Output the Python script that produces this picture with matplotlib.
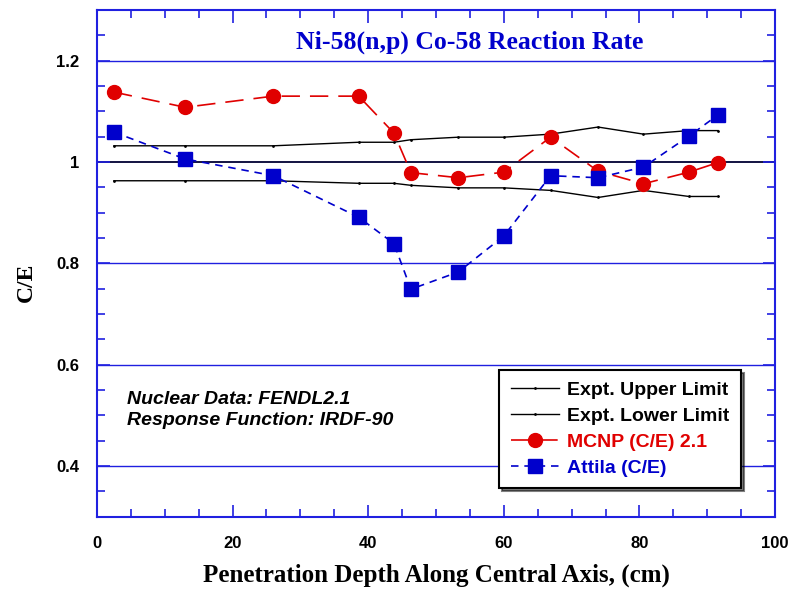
import matplotlib.pyplot as plt
import numpy as np

# depth positions (cm) along central axis
depth = [2.5, 13.0, 26.0, 38.6, 43.8, 46.3, 53.3, 60.0, 66.9, 73.9, 80.6, 87.3, 91.6]
upper_limit = [1.032, 1.032, 1.032, 1.039, 1.039, 1.044, 1.049, 1.049, 1.055, 1.069, 1.055, 1.062, 1.062]
lower_limit = [0.963, 0.963, 0.963, 0.958, 0.958, 0.954, 0.949, 0.949, 0.944, 0.930, 0.944, 0.932, 0.932]
mcnp_ce = [1.138, 1.108, 1.130, 1.130, 1.057, 0.979, 0.969, 0.980, 1.049, 0.982, 0.957, 0.980, 0.999]
attila_ce = [1.059, 1.006, 0.973, 0.891, 0.839, 0.749, 0.783, 0.854, 0.973, 0.969, 0.990, 1.051, 1.093]

blue = "#0000cc"
red = "#e00000"
axis_blue = "#2020e0"

fig = plt.figure(figsize=(7.91, 5.92), dpi=100)
ax = fig.add_axes([0.1226, 0.1272, 0.8572, 0.8559])

# grid lines
for yv in [0.4, 0.6, 0.8, 1.2]:
    ax.axhline(yv, color=axis_blue, lw=1.0, zorder=1)
ax.axhline(1.0, color="#000033", lw=1.3, zorder=1)

ax.plot(depth, upper_limit, color="black", lw=1.0, marker=".", ms=2, label="Expt. Upper Limit", zorder=2)
ax.plot(depth, lower_limit, color="black", lw=1.0, marker=".", ms=2, label="Expt. Lower Limit", zorder=2)
ax.plot(depth, mcnp_ce, color=red, lw=1.2, ls=(0, (11, 6)), marker="o", ms=10,
        mec=red, mfc=red, label="MCNP (C/E) 2.1", zorder=3)
ax.plot(depth, attila_ce, color=blue, lw=1.2, ls=(0, (4.5, 3.5)), marker="s", ms=10,
        mec=blue, mfc=blue, label="Attila (C/E)", zorder=4)

ax.set_xlim(0, 100)
ax.set_ylim(0.3, 1.3)
ax.set_xticks(np.arange(0, 101, 20))
ax.set_xticks(np.arange(0, 101, 5), minor=True)
ax.set_yticks([0.4, 0.6, 0.8, 1.0, 1.2])
ax.set_yticklabels(["0.4", "0.6", "0.8", "1", "1.2"])
ax.set_yticks(np.arange(0.3, 1.301, 0.05), minor=True)
ax.tick_params(which="both", direction="in", top=True, right=True, color=axis_blue, width=1.2)
ax.tick_params(which="major", length=9)
ax.tick_params(which="minor", length=6)
ax.tick_params(axis="x", pad=14)
ax.tick_params(axis="y", pad=13)
for lab in ax.get_xticklabels() + ax.get_yticklabels():
    lab.set_fontfamily("Liberation Sans")
    lab.set_fontweight("bold")
    lab.set_fontsize(12)
for sp in ax.spines.values():
    sp.set_color(axis_blue)
    sp.set_linewidth(1.5)

ax.set_xlabel("Penetration Depth Along Central Axis, (cm)", family="Liberation Serif",
              fontweight="bold", fontsize=18, labelpad=9)
ax.set_ylabel("C/E", family="Liberation Serif", fontweight="bold", fontsize=17)
ax.yaxis.set_label_coords(-0.088, 0.463)

ax.text(0.55, 0.936, "Ni-58(n,p) Co-58 Reaction Rate", transform=ax.transAxes,
        ha="center", va="center", color=blue, family="Liberation Serif",
        fontweight="bold", fontsize=18.5)
ax.text(0.045, 0.21, "Nuclear Data: FENDL2.1\nResponse Function: IRDF-90", transform=ax.transAxes,
        ha="left", va="center", family="Liberation Sans", fontweight="bold",
        fontstyle="italic", fontsize=14, linespacing=1.3)

leg = ax.legend(loc="upper left", bbox_to_anchor=(0.593, 0.2895), fancybox=False,
                shadow={"color": "black"}, framealpha=1, edgecolor="black",
                prop={"family": "Liberation Sans", "weight": "bold", "size": 14},
                handlelength=2.5, borderpad=0.6, labelspacing=0.42, handletextpad=0.4,
                borderaxespad=0)
leg.get_frame().set_linewidth(1.5)
leg.set_zorder(10)
for txt, col in zip(leg.get_texts(), ["black", "black", red, blue]):
    txt.set_color(col)

fig.savefig("out.png", dpi=100)
